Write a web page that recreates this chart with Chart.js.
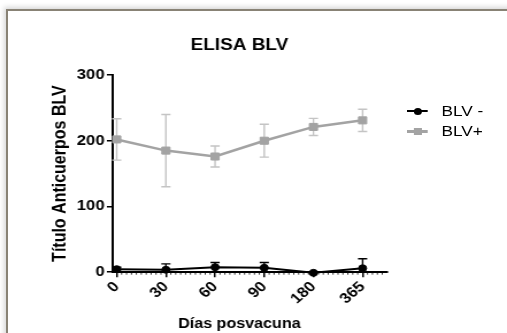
<!DOCTYPE html>
<html><head><meta charset="utf-8">
<script src="https://cdn.jsdelivr.net/npm/chart.js@4/dist/chart.umd.min.js"></script>
<style>
html,body{margin:0;padding:0;background:#fff;overflow:hidden;}
body{width:507px;height:333px;position:relative;}
#frame{position:absolute;left:6px;top:9px;width:520px;height:340px;border-top:2px solid #888275;border-left:2px solid #888275;box-shadow:-2px -2px 5px rgba(0,0,0,0.16);background:#fff;}
#wrap{position:absolute;left:0;top:0;width:441px;height:333px;transform:scaleX(1.1497);transform-origin:0 0;}
#c{position:absolute;left:0;top:0;}
.lg{position:absolute;left:354px;height:16px;width:90px;font:15px "Liberation Sans",Arial,sans-serif;color:#000;}
.lg .ln{position:absolute;left:0;top:7px;width:18px;height:2px;}
.lg .mk{position:absolute;}
.lg .tx{position:absolute;left:30px;top:0;line-height:16px;}
</style></head>
<body>
<div id="frame"></div>
<div id="wrap">
<canvas id="c" width="441" height="333"></canvas>
<div class="lg" style="top:103px"><div class="ln" style="background:#000"></div><div class="mk" style="left:5.5px;top:4.5px;width:7px;height:7px;border-radius:50%;background:#000"></div><div class="tx">BLV -</div></div>
<div class="lg" style="top:123px"><div class="ln" style="background:#a3a3a3;height:2.5px"></div><div class="mk" style="left:5.5px;top:4.5px;width:7px;height:7px;background:#a3a3a3"></div><div class="tx">BLV+</div></div>
</div>
<script>
const categories = ['0', '30', '60', '90', '180', '365'];
const blvNeg = [4.6, 3.7, 7.6, 6.7, -1, 6];
const blvNegErr = [3, 9, 7.2, 8, 0.5, 14.5];
const blvPos = [202, 185, 176, 200, 221, 231];
const blvPosErr = [31.5, 55, 16, 25, 13, 17];
const yTicks = [0, 100, 200, 300];

const errs = [blvNegErr, blvPosErr];
const errColors = ['#000000', '#c4c4c4'];

const errorBars = {
  id: 'errorBars',
  beforeDatasetsDraw(chart) {
    const ctx = chart.ctx, xs = chart.scales.x, ys = chart.scales.y;
    const a = chart.chartArea;
    ctx.save();
    ctx.beginPath();
    ctx.rect(a.left - 10, a.top - 10, a.right - a.left + 20, a.bottom - a.top + 10);
    ctx.clip();
    chart.data.datasets.forEach((ds, i) => {
      ctx.strokeStyle = errColors[i];
      ctx.lineWidth = 1.4;
      ds.data.forEach((p, j) => {
        const e = errs[i][j];
        const x = xs.getPixelForValue(p.x);
        const t = ys.getPixelForValue(p.y + e);
        const b = ys.getPixelForValue(p.y - e);
        ctx.beginPath();
        ctx.moveTo(x, t); ctx.lineTo(x, b);
        ctx.moveTo(x - 4, t); ctx.lineTo(x + 4, t);
        ctx.moveTo(x - 4, b); ctx.lineTo(x + 4, b);
        ctx.stroke();
      });
    });
    ctx.restore();
  }
};

const minorTicks = {
  id: 'minorTicks',
  afterDraw(chart) {
    const ctx = chart.ctx, xs = chart.scales.x;
    const y0 = chart.chartArea.bottom;
    ctx.save();
    ctx.strokeStyle = '#000';
    ctx.lineWidth = 0.8;
    ctx.beginPath();
    for (let k = 1; k <= 54; k++) {
      if (k % 10 === 0) continue;
      const x = xs.getPixelForValue(k / 10);
      ctx.moveTo(x, y0); ctx.lineTo(x, y0 + 2.5);
    }
    ctx.stroke();
    ctx.restore();
  }
};

const FONT = '"Liberation Sans", Arial, sans-serif';

new Chart(document.getElementById('c'), {
  type: 'line',
  data: {
    datasets: [
      {
        label: 'BLV -',
        data: blvNeg.map((v, i) => ({x: i, y: v})),
        borderColor: '#000', backgroundColor: '#000',
        borderWidth: 2, pointStyle: 'circle', pointRadius: 3.5, pointBorderWidth: 1,
        pointBackgroundColor: '#000', pointBorderColor: '#000', clip: false
      },
      {
        label: 'BLV+',
        data: blvPos.map((v, i) => ({x: i, y: v})),
        borderColor: '#a3a3a3', backgroundColor: '#a3a3a3',
        borderWidth: 2.5, pointStyle: 'rect', pointRadius: 5, pointBorderWidth: 1,
        pointBackgroundColor: '#a3a3a3', pointBorderColor: '#a3a3a3', clip: false
      }
    ]
  },
  options: {
    responsive: false,
    animation: false,
    devicePixelRatio: 1,
    layout: {padding: {left: 39, right: 63.6, top: 0, bottom: 0}},
    scales: {
      x: {
        type: 'linear', min: -0.082, max: 5.505,
        afterBuildTicks: s => { s.ticks = categories.map((_, i) => ({value: i})); },
        afterFit: s => { s.height = 44; },
        ticks: {
          callback: v => categories[v] ?? '',
          color: '#000', font: {family: FONT, size: 14.5, weight: 'bold'},
          minRotation: 45, maxRotation: 45, padding: 1, autoSkip: false
        },
        grid: {drawOnChartArea: false, tickLength: 5, color: '#000', lineWidth: 1.5},
        border: {color: '#000', width: 2},
        title: {display: false}
      },
      y: {
        min: 0, max: 300,
        afterBuildTicks: s => { s.ticks = yTicks.map(v => ({value: v})); },
        afterFit: s => { s.width = 59; },
        ticks: {color: '#000', font: {family: FONT, size: 14.5, weight: 'bold'}, padding: 2},
        grid: {drawOnChartArea: false, tickLength: 5, color: '#000', lineWidth: 1.5},
        border: {color: '#000', width: 2},
        title: {display: true, text: 'Título Anticuerpos BLV', color: '#000',
          font: {family: FONT, size: 16, weight: 'bold'},
          padding: {top: 3.6, bottom: 4}}
      },
      spacer: {
        type: 'linear', position: 'right', display: true,
        afterFit: s => { s.width = 40.4; },
        ticks: {display: false},
        grid: {display: false, drawTicks: false},
        border: {display: false},
        title: {display: false}
      }
    },
    plugins: {
      legend: {display: false},
      tooltip: {enabled: false},
      title: {display: true, text: 'ELISA BLV', color: '#000',
        font: {family: FONT, size: 16.5, weight: 'bold'},
        padding: {top: 36, bottom: 19.2}},
      subtitle: {display: true, position: 'bottom', text: 'Días posvacuna', color: '#000',
        font: {family: FONT, size: 14, weight: 'bold'},
        padding: {top: 0, bottom: 0}}
    }
  },
  plugins: [errorBars, minorTicks]
});
</script>
</body></html>
